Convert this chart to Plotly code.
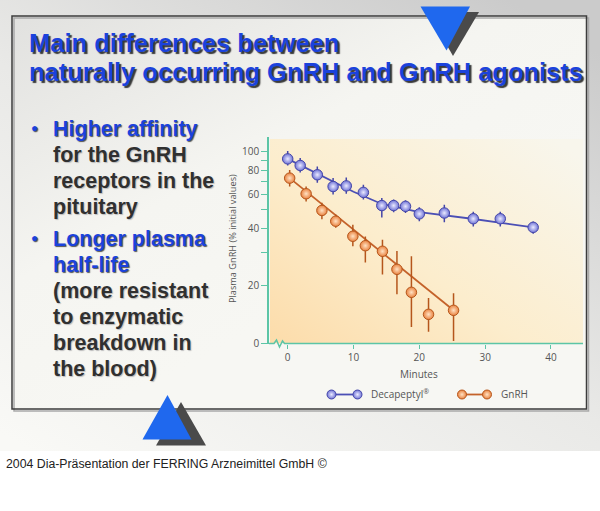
import base64
import plotly.graph_objects as go

W, H = 600, 511

# ---------------- data ----------------
deca_t = [0, 1.9, 4.5, 6.9, 8.9, 11.5, 14.3, 16.1, 17.9, 20.0, 23.8, 28.2, 32.3, 37.3]
deca_v = [92, 85, 76, 66, 66.5, 61.5, 52.5, 52.5, 52, 47.5, 48, 44.8, 44.8, 40.4]
deca_err_up = [9, 8, 8, 7, 7, 6, 5, 4, 4, 4, 5, 4, 4, 3]
deca_err_dn = [7, 7, 7, 6, 6, 5, 7, 4, 4, 4, 5, 4, 4, 3]
deca_fit_t = [0, 2, 4.5, 7, 10, 14.3, 20, 28, 37.3]
deca_fit_v = [92, 85, 77, 70, 62, 53.5, 48.5, 44.8, 40.4]

gnrh_t = [0.3, 2.8, 5.2, 7.3, 9.9, 11.8, 14.4, 16.6, 18.8, 21.4, 25.2]
gnrh_v = [73, 60.5, 49.5, 43.5, 36.3, 32.4, 30.3, 24.4, 18.5, 14.2, 14.9]
gnrh_err_up = [7.6, 5.5, 4.8, 3.6, 5.4, 3.8, 4.5, 6.0, 10.0, 3.1, 3.4]
gnrh_err_dn = [6.9, 5.3, 5.0, 3.3, 4.1, 5.9, 7.4, 6.3, 6.3, 2.7, 4.6]
gnrh_fit_t = [0.3, 25.2]
gnrh_fit_v = [73, 14.9]

x_ticks = [0, 10, 20, 30, 40]
y_ticks = [10, 20, 30, 40, 50, 60, 70, 80, 90, 100]
y_ticktext = ["0", "20", " ", "40", " ", "60", " ", "80", " ", "100"]

series_names = ["Decapeptyl<sup>®</sup>", "GnRH"]

title_lines = ["Main differences between",
               "naturally occurring GnRH and GnRH agonists"]
bullet_lines = [
    ("Higher affinity", True), ("for the GnRH", False), ("receptors in the", False),
    ("pituitary", False), ("Longer plasma", True), ("half-life", True),
    ("(more resistant", False), ("to enzymatic", False), ("breakdown in", False),
    ("the blood)", False),
]
footer = "2004 Dia-Präsentation der FERRING Arzneimittel GmbH ©"

# ---------------- styles ----------------
BLUE_T = "#1b42dc"
TEAL = "#5cc5a6"
DECA_C = dict(fill="#6f73d6", center="#eaeaff", edge="#4446a8", line="#4b4fb5")
GNRH_C = dict(fill="#e9823f", center="#ffe2c4", edge="#b5561c", line="#c4622a")


def px(x):
    return x / W


def py(y):
    return 1 - y / H


def svg_uri(svg):
    return "data:image/svg+xml;base64," + base64.b64encode(svg.encode()).decode()


def grad_svg(w, h, x1, y1, x2, y2, stops):
    st = "".join(f'<stop offset="{o}" stop-color="{c}"/>' for o, c in stops)
    return (f'<svg xmlns="http://www.w3.org/2000/svg" width="{w}" height="{h}" '
            f'viewBox="0 0 {w} {h}" preserveAspectRatio="none"><defs>'
            f'<linearGradient id="g" x1="{x1}" y1="{y1}" x2="{x2}" y2="{y2}">{st}'
            f'</linearGradient></defs><rect width="{w}" height="{h}" fill="url(#g)"/></svg>')


fig = go.Figure()

# fitted lines
fig.add_trace(go.Scatter(x=deca_fit_t, y=deca_fit_v, mode="lines",
                         line=dict(color=DECA_C["line"], width=1.8), hoverinfo="skip"))
fig.add_trace(go.Scatter(x=gnrh_fit_t, y=gnrh_fit_v, mode="lines",
                         line=dict(color=GNRH_C["line"], width=1.8), hoverinfo="skip"))

# data points with error bars
for t, v, up, dn, c, name in [
    (deca_t, deca_v, deca_err_up, deca_err_dn, DECA_C, series_names[0]),
    (gnrh_t, gnrh_v, gnrh_err_up, gnrh_err_dn, GNRH_C, series_names[1]),
]:
    fig.add_trace(go.Scatter(
        x=t, y=v, mode="markers", name=name,
        error_y=dict(type="data", symmetric=False, array=up, arrayminus=dn,
                     color=c["edge"], thickness=1.5, width=0),
        marker=dict(size=10.5, color=c["fill"],
                    gradient=dict(type="radial", color=c["center"]),
                    line=dict(color=c["edge"], width=1)),
    ))

# custom legend on a pixel overlay axis
leg_items = [(331.5, 357.5, 369, DECA_C, series_names[0]),
             (462, 487, 499, GNRH_C, series_names[1])]
for xa, xb, xt, c, name in leg_items:
    fig.add_trace(go.Scatter(
        x=[xa, xb], y=[394.5, 394.5], mode="lines+markers", xaxis="x2", yaxis="y2",
        line=dict(color=c["line"], width=1.8),
        marker=dict(size=9, color=c["fill"], gradient=dict(type="radial", color=c["center"]),
                    line=dict(color=c["edge"], width=1)),
        hoverinfo="skip"))

images = [
    dict(source=svg_uri(grad_svg(600, 451, 0.05, 1, 0.85, 0,
                                 [(0, "#f9f9f6"), (0.5, "#e9e9e7"), (1, "#cbcbcb")])),
         x=0, y=1, sizex=1, sizey=451 / H),
    dict(source=svg_uri(grad_svg(575, 393, 0, 0, 0.55, 0.7,
                                 [(0, "#e1e1df"), (0.6, "#f5f5f1"), (1, "#f7f7f3")])),
         x=px(12), y=py(16), sizex=px(586.5) - px(12), sizey=(409 - 16) / H),
    dict(source=svg_uri(grad_svg(314, 206, 0, 1, 1, 0.1,
                                 [(0, "#fcdcaa"), (0.45, "#fcedcd"), (1, "#f8f6ec")])),
         x=px(270), y=py(139), sizex=(583 - 270) / W, sizey=(343.5 - 139) / H),
]
for im in images:
    im.update(xref="paper", yref="paper", xanchor="left", yanchor="top",
              sizing="stretch", layer="below")

shapes = []
# slide box with shadow
shapes.append(dict(type="rect", xref="paper", yref="paper", x0=px(14), x1=px(588.5),
                   y0=py(411), y1=py(18), line=dict(color="#a9a9a9", width=1.5)))
shapes.append(dict(type="rect", xref="paper", yref="paper", x0=px(12), x1=px(586.5),
                   y0=py(409), y1=py(16), line=dict(color="#3c3c3c", width=1.5)))


def tri(points, color):
    p = "M " + " L ".join(f"{px(a)},{py(b)}" for a, b in points) + " Z"
    return dict(type="path", path=p, xref="paper", yref="paper",
                fillcolor=color, line=dict(width=0), layer="above")


shapes.append(tri([(428, 12), (479, 12), (453, 56)], "#4a4a4a"))
shapes.append(tri([(420.5, 6.5), (470, 6.5), (446.5, 50.5)], "#1f68ee"))
shapes.append(tri([(181, 402), (156, 445.5), (206, 445.5)], "#4a4a4a"))
shapes.append(tri([(167.5, 395), (142.5, 439.5), (191.5, 439.5)], "#1f68ee"))

# x axis line with break
zz = [(269, 343.5), (274, 343.5), (276.5, 340), (279.5, 347), (282.5, 341), (284.5, 343.5), (583, 343.5)]
shapes.append(dict(type="path", xref="paper", yref="paper",
                   path="M " + " L ".join(f"{px(a)},{py(b)}" for a, b in zz),
                   line=dict(color=TEAL, width=1.5)))

annotations = []
TITLE_FONT = "Liberation Sans, Arial, sans-serif"
for i, line in enumerate(title_lines):
    annotations.append(dict(
        text=f"<b>{line}</b>", x=px(27), y=py(43 + i * 29.5), xref="paper", yref="paper",
        xanchor="left", yanchor="middle", showarrow=False,
        font=dict(family=TITLE_FONT, size=25.5, color=BLUE_T, shadow="2px 2px 1px #3a3a3a")))

for i, (txt, blue) in enumerate(bullet_lines):
    y = 129 + i * 26 + (6 if i >= 4 else 0)
    annotations.append(dict(
        text=f"<b>{txt}</b>", x=px(51), y=py(y), xref="paper", yref="paper",
        xanchor="left", yanchor="middle", showarrow=False,
        font=dict(family=TITLE_FONT, size=21.5, color=BLUE_T if blue else "#303030",
                  shadow="1px 1px 1px #555" if blue else "1px 1px 1px #bbbbbb")))
    if i in (0, 4):
        annotations.append(dict(
            text="●", x=px(34), y=py(y - 1), xref="paper", yref="paper",
            xanchor="center", yanchor="middle", showarrow=False,
            font=dict(family=TITLE_FONT, size=12, color=BLUE_T, shadow="1px 1px 1px #555")))

CHART_FONT = "Open Sans, sans-serif"
annotations.append(dict(text="Minutes", x=px(419), y=py(374), xref="paper", yref="paper",
                        xanchor="center", yanchor="middle", showarrow=False,
                        font=dict(family=CHART_FONT, size=10, color="#555")))
annotations.append(dict(text="Plasma GnRH (% initial values)", x=px(232), y=py(239),
                        xref="paper", yref="paper", textangle=-90, showarrow=False,
                        font=dict(family=CHART_FONT, size=9.2, color="#555")))
for xa, xb, xt, c, name in leg_items:
    annotations.append(dict(text=name, x=px(xt), y=py(394), xref="paper", yref="paper",
                            xanchor="left", yanchor="middle", showarrow=False,
                            font=dict(family=CHART_FONT, size=10, color="#555")))
annotations.append(dict(text=footer, x=px(4), y=py(463.5), xref="paper", yref="paper",
                        xanchor="left", yanchor="middle", showarrow=False,
                        font=dict(family=TITLE_FONT, size=12.3, color="#222")))

fig.update_layout(
    width=W, height=H, autosize=False, margin=dict(l=0, r=0, t=0, b=0, pad=0),
    paper_bgcolor="white", plot_bgcolor="rgba(0,0,0,0)",
    showlegend=False, images=images, shapes=shapes, annotations=annotations,
    xaxis=dict(domain=[px(269), px(583)], range=[-2.84, 44.87], tickvals=x_ticks,
               ticks="outside", ticklen=4, tickwidth=1.2, tickcolor=TEAL,
               showline=False, showgrid=False, zeroline=False, automargin=False,
               tickfont=dict(family=CHART_FONT, size=10, color="#555")),
    yaxis=dict(type="log", domain=[py(343.5), py(137)], range=[1, 2.078],
               tickvals=y_ticks, ticktext=y_ticktext, ticks="outside", ticklen=6,
               tickwidth=1.2, tickcolor=TEAL, showline=True, linecolor=TEAL, linewidth=1.5,
               showgrid=False, zeroline=False, automargin=False,
               tickfont=dict(family=CHART_FONT, size=10, color="#555")),
    xaxis2=dict(domain=[0, 1], range=[0, W], visible=False, anchor="y2", fixedrange=True),
    yaxis2=dict(domain=[0, 1], range=[H, 0], visible=False, anchor="x2", fixedrange=True),
)

fig.write_html("out.html", config={"responsive": False})
